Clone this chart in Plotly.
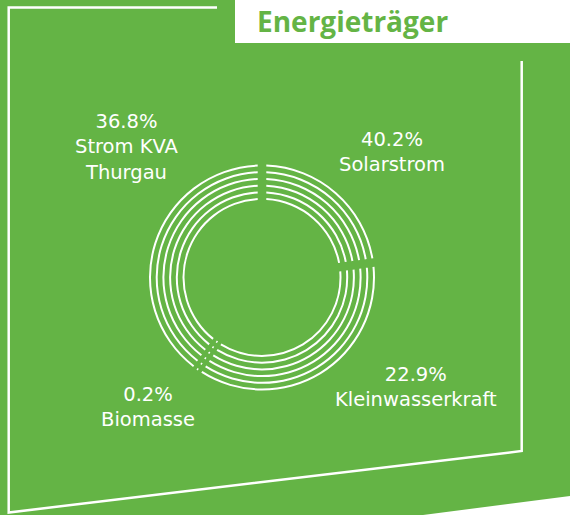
import math
import plotly.graph_objects as go

# ---------------- data ----------------
categories = ["Solarstrom", "Biomasse", "Strom KVA Thurgau", "Kleinwasserkraft"]
values = [40.2, 0.2, 36.8, 22.9]          # drawn counter-clockwise from 12 o'clock
label_pct = ["40.2%", "0.2%", "36.8%", "22.9%"]
label_names = ["Solarstrom", "Biomasse", "Strom KVA<br>Thurgau", "Kleinwasserkraft"]
title_text = "Energieträger"

# ---------------- style ----------------
W, H = 570, 515
GREEN = "#64b445"
WHITE = "#ffffff"
CX, CY = 262, 277.5          # donut centre (px)
RMAX = 120                   # polar radius in px (1 radial unit = 1 px)
ring_r = [78.5 + k * 6.7 for k in range(6)]
ring_lw = 2.0
gap_px = 4.3
min_px = 1.5

def px(x):
    return x / W

def py(y):
    return 1 - y / H

# ---------------- donut rings ----------------
total = sum(values)
cum = [0.0]
for v in values:
    cum.append(cum[-1] + v)

thetas, widths, bases, rs = [], [], [], []
for r in ring_r:
    g_deg = math.degrees(gap_px / r)
    m_deg = math.degrees(min_px / r)
    for i in range(len(values)):
        a0 = cum[i] / total * 360
        a1 = cum[i + 1] / total * 360
        span = (a1 - a0) - 2 * g_deg
        if span < m_deg:
            span = m_deg
        thetas.append((a0 + a1) / 2)
        widths.append(span)
        bases.append(r - ring_lw / 2)
        rs.append(ring_lw)

fig = go.Figure()
fig.add_trace(go.Barpolar(
    theta=thetas, width=widths, base=bases, r=rs,
    marker=dict(color=WHITE, line=dict(width=0)),
    hoverinfo="skip", showlegend=False,
))

fig.update_layout(
    width=W, height=H,
    margin=dict(l=0, r=0, t=0, b=0),
    paper_bgcolor=GREEN, plot_bgcolor=GREEN,
    showlegend=False,
    polar=dict(
        domain=dict(x=[px(CX - RMAX), px(CX + RMAX)],
                    y=[py(CY + RMAX), py(CY - RMAX)]),
        bgcolor="rgba(0,0,0,0)",
        hole=0,
        radialaxis=dict(range=[0, RMAX], visible=False, showgrid=False),
        angularaxis=dict(visible=False, showgrid=False, rotation=90,
                         direction="counterclockwise"),
    ),
)

# ---------------- background shapes / frame ----------------
shapes = []
# title box
shapes.append(dict(type="rect", xref="paper", yref="paper",
                   x0=px(235), x1=px(W), y0=py(43), y1=py(0),
                   fillcolor=WHITE, line=dict(width=0), layer="below"))
# white corner bottom-right
shapes.append(dict(type="path", xref="paper", yref="paper",
                   path=f"M {px(570)} {py(496)} L {px(423)} {py(515)} L {px(570)} {py(515)} Z",
                   fillcolor=WHITE, line=dict(width=0), layer="below"))
# frame line
shapes.append(dict(type="path", xref="paper", yref="paper",
                   path=(f"M {px(217)} {py(7.5)} L {px(8.7)} {py(7.5)} "
                         f"L {px(8.7)} {py(512.5)} L {px(521.7)} {py(451)} "
                         f"L {px(521.7)} {py(61)}"),
                   line=dict(color=WHITE, width=2.5), fillcolor="rgba(0,0,0,0)"))
fig.update_layout(shapes=shapes)

# ---------------- text ----------------
lab_font = dict(family="DejaVu Sans", size=19.5, color=WHITE)
label_pos = {  # centre x, top y (px)
    "Solarstrom": (391.5, 126),
    "Biomasse": (148, 381),
    "Strom KVA Thurgau": (126.5, 108),
    "Kleinwasserkraft": (416, 361),
}
annotations = []
for cat, pct, name in zip(categories, label_pct, label_names):
    x, y = label_pos[cat]
    annotations.append(dict(
        text=f"{pct}<br>{name}", x=px(x), y=py(y), xref="paper", yref="paper",
        xanchor="center", yanchor="top", showarrow=False, align="center",
        font=lab_font))
annotations.append(dict(
    text=title_text, x=px(255), y=py(0), xref="paper", yref="paper",
    xanchor="left", yanchor="top", showarrow=False,
    font=dict(family="Open Sans", size=28, color=GREEN, weight=700)))
fig.update_layout(annotations=annotations)

fig.write_html("out.html",
               config={"displayModeBar": False},
               post_script="document.body.style.margin='0';document.body.style.overflow='hidden';")
